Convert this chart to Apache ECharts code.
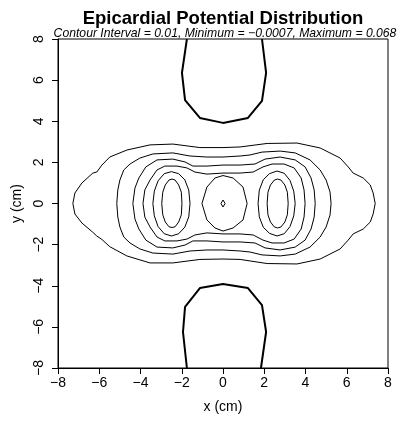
<!DOCTYPE html>
<html>
<head>
<meta charset="utf-8">
<script src="https://cdn.jsdelivr.net/npm/echarts@6/dist/echarts.min.js"></script>
<style>html,body{margin:0;padding:0;background:#fff;}#c{width:404px;height:421px;}</style>
</head>
<body>
<div id="c"></div>
<script>
// ---- data (cm coordinates) ----
var titleText = 'Epicardial Potential Distribution';
var subText = 'Contour Interval = 0.01, Minimum = \u22120.0007, Maximum = 0.068';
var xTicks = [-8, -6, -4, -2, 0, 2, 4, 6, 8];
var yTicks = [-8, -6, -4, -2, 0, 2, 4, 6, 8];
var levels = [0, 0.01, 0.02, 0.03, 0.04, 0.05, 0.06];

// level 0 (thick) – top and bottom
var zeroTop = [[-1.75,8.0],[-1.99,6.35],[-1.84,5.03],[-1.12,4.16],[0,3.92],[1.21,4.16],[1.89,4.99],[2.09,6.35],[1.89,8.0]];
var zeroBottom = [[-1.75,-8.0],[-1.94,-6.25],[-1.84,-5.03],[-1.12,-4.11],[0,-3.91],[1.21,-4.11],[1.89,-4.94],[2.09,-6.25],[1.84,-8.0]];

// level 0.01
var c01 = [[-7.28,0],[-7.18,0.51],[-6.84,1.00],[-6.31,1.48],[-6.12,1.53],[-5.87,1.87],[-5.49,2.26],[-4.66,2.60],[-3.54,2.85],[-2.43,2.89],[-1.12,2.72],[0,2.72],[0.83,2.75],[2.14,2.92],[3.59,2.94],[4.71,2.70],[5.68,2.21],[6.07,1.78],[6.31,1.48],[6.80,1.24],[7.14,0.90],[7.28,0.51],[7.38,0],
  [7.28,-0.51],[7.14,-0.90],[6.80,-1.24],[6.31,-1.48],[6.07,-1.78],[5.68,-2.21],[4.71,-2.70],[3.59,-2.94],[2.14,-2.92],[0.83,-2.72],[0,-2.70],[-1.12,-2.72],[-2.43,-2.89],[-3.54,-2.89],[-4.66,-2.55],[-5.49,-2.10],[-5.87,-1.75],[-6.12,-1.58],[-6.31,-1.40],[-6.84,-0.95],[-7.18,-0.51],[-7.28,0]];

// level 0.02
var c02 = [[-5.15,0],[-5.10,0.66],[-5.0,1.14],[-4.81,1.63],[-4.51,1.92],[-4.03,2.21],[-3.40,2.41],[-2.43,2.46],[-1.60,2.31],[-0.78,2.26],[0,2.26],[0.83,2.31],[1.31,2.36],[1.89,2.50],[2.77,2.55],[3.50,2.46],[4.22,2.12],[4.71,1.63],[5.0,1.14],[5.19,0.56],[5.24,0],
  [5.19,-0.56],[5.0,-1.14],[4.71,-1.63],[4.22,-2.12],[3.50,-2.46],[2.77,-2.55],[1.89,-2.50],[1.31,-2.36],[0.83,-2.31],[0,-2.26],[-0.78,-2.26],[-1.60,-2.31],[-2.43,-2.46],[-3.40,-2.41],[-4.03,-2.21],[-4.51,-1.92],[-4.81,-1.63],[-5.0,-1.14],[-5.10,-0.66],[-5.15,0]];

// level 0.03
var c03 = [[-4.37,0],[-4.27,0.75],[-4.08,1.24],[-3.74,1.78],[-3.20,2.12],[-2.43,2.16],[-1.84,2.02],[-1.46,1.82],[-0.78,1.82],[0,1.87],[0.83,1.87],[1.55,1.92],[2.04,2.16],[2.77,2.26],[3.50,2.12],[3.98,1.78],[4.27,1.24],[4.42,0.66],[4.47,0],
  [4.42,-0.66],[4.27,-1.24],[3.98,-1.78],[3.50,-2.12],[2.77,-2.26],[2.04,-2.16],[1.55,-1.92],[0.83,-1.87],[0,-1.87],[-0.78,-1.82],[-1.46,-1.82],[-1.84,-2.02],[-2.43,-2.16],[-3.20,-2.12],[-3.74,-1.78],[-4.08,-1.24],[-4.27,-0.75],[-4.37,0]];

// level 0.04
var c04 = [[-3.88,0],[-3.79,0.66],[-3.54,1.14],[-3.20,1.63],[-2.82,1.82],[-2.23,1.82],[-1.75,1.73],[-1.36,1.53],[-0.78,1.43],[0,1.48],[0.83,1.48],[1.46,1.53],[1.94,1.78],[2.38,1.92],[2.96,1.92],[3.45,1.73],[3.79,1.24],[3.93,0.66],[3.98,0],
  [3.93,-0.66],[3.79,-1.24],[3.45,-1.73],[2.96,-1.92],[2.38,-1.92],[1.94,-1.78],[1.46,-1.53],[0.83,-1.48],[0,-1.48],[-0.78,-1.43],[-1.36,-1.53],[-1.75,-1.73],[-2.23,-1.82],[-2.82,-1.82],[-3.20,-1.63],[-3.54,-1.14],[-3.79,-0.66],[-3.88,0]];

// level 0.05 (three closed curves)
var c05Left = [[-3.40,0],[-3.33,0.6],[-3.15,1.1],[-2.85,1.45],[-2.50,1.55],[-2.15,1.45],[-1.85,1.15],[-1.66,0.65],[-1.60,0],[-1.66,-0.65],[-1.85,-1.15],[-2.15,-1.47],[-2.50,-1.58],[-2.85,-1.47],[-3.15,-1.12],[-3.33,-0.6],[-3.40,0]];
var c05Center = [[-1.02,0],[-0.78,0.80],[-0.39,1.24],[0,1.36],[0.49,1.24],[0.97,0.80],[1.17,0],[0.97,-0.80],[0.49,-1.19],[0,-1.34],[-0.39,-1.19],[-0.78,-0.80],[-1.02,0]];
var c05Right = [[1.70,0],[1.76,0.65],[1.95,1.15],[2.25,1.45],[2.62,1.58],[2.97,1.47],[3.25,1.12],[3.43,0.6],[3.50,0],[3.43,-0.6],[3.25,-1.12],[2.97,-1.47],[2.62,-1.58],[2.25,-1.45],[1.95,-1.15],[1.76,-0.65],[1.70,0]];

// level 0.06 (three closed curves)
var c06Left = [[-2.97,0],[-2.92,0.55],[-2.80,0.9],[-2.62,1.14],[-2.47,1.19],[-2.32,1.14],[-2.15,0.9],[-2.02,0.55],[-1.99,0],[-2.02,-0.55],[-2.15,-0.9],[-2.32,-1.13],[-2.47,-1.17],[-2.62,-1.13],[-2.80,-0.9],[-2.92,-0.55],[-2.97,0]];
var c06Center = [[-0.1,0],[0,0.17],[0.1,0],[0,-0.17],[-0.1,0]];
var c06Right = [[2.14,0],[2.18,0.55],[2.30,0.9],[2.49,1.14],[2.65,1.19],[2.81,1.14],[3.00,0.9],[3.12,0.55],[3.16,0],[3.12,-0.55],[3.00,-0.9],[2.81,-1.14],[2.65,-1.19],[2.49,-1.14],[2.30,-0.9],[2.18,-0.55],[2.14,0]];

// ---- chart ----
var FONT = 'Liberation Sans';
function fmt(v){ return String(v).replace('-', '\u2212'); }
var thin = [c01, c02, c03, c04, c05Left, c05Center, c05Right, c06Left, c06Center, c06Right];
var thick = [zeroTop, zeroBottom];
var series = [];
thick.forEach(function(d){
  series.push({type:'line', data:d, showSymbol:false, symbol:'none', silent:true, animation:false,
    lineStyle:{color:'#000', width:2}, clip:true});
});
thin.forEach(function(d){
  series.push({type:'line', data:d, showSymbol:false, symbol:'none', silent:true, animation:false,
    lineStyle:{color:'#000', width:1}, clip:true});
});

var chart = echarts.init(document.getElementById('c'), null, {renderer:'canvas'});
chart.setOption({
  backgroundColor:'#fff',
  animation:false,
  title:[
    {text:titleText, left:218, top:4, textAlign:'center',
     textStyle:{fontFamily:FONT, fontSize:18.5, fontWeight:'bold', color:'#000'}},
    {text:subText, left:220, top:23, textAlign:'center',
     textStyle:{fontFamily:FONT, fontSize:12.2, fontStyle:'italic', fontWeight:'normal', color:'#000'}}
  ],
  grid:{left:58, right:16, top:39, bottom:53, show:true, borderColor:'#000', borderWidth:1, backgroundColor:'transparent'},
  xAxis:{type:'value', min:xTicks[0], max:xTicks[xTicks.length-1], interval:2,
    axisLine:{show:true, onZero:false, lineStyle:{color:'#000', width:1}},
    axisTick:{show:true, inside:false, length:6, lineStyle:{color:'#000'}},
    axisLabel:{color:'#000', fontFamily:FONT, fontSize:14, margin:8, formatter:fmt},
    splitLine:{show:false},
    name:'x (cm)', nameLocation:'middle', nameGap:32,
    nameTextStyle:{color:'#000', fontFamily:FONT, fontSize:14}},
  yAxis:{type:'value', min:yTicks[0], max:yTicks[yTicks.length-1], interval:2,
    axisLine:{show:true, onZero:false, lineStyle:{color:'#000', width:1}},
    axisTick:{show:true, inside:false, length:6, lineStyle:{color:'#000'}},
    axisLabel:{color:'#000', fontFamily:FONT, fontSize:14, margin:12, rotate:90, align:'center', verticalAlign:'bottom', formatter:fmt},
    splitLine:{show:false},
    name:'y (cm)', nameLocation:'middle', nameGap:33, nameRotate:90,
    nameTextStyle:{color:'#000', fontFamily:FONT, fontSize:14}},
  series:series
});
</script>
</body>
</html>
